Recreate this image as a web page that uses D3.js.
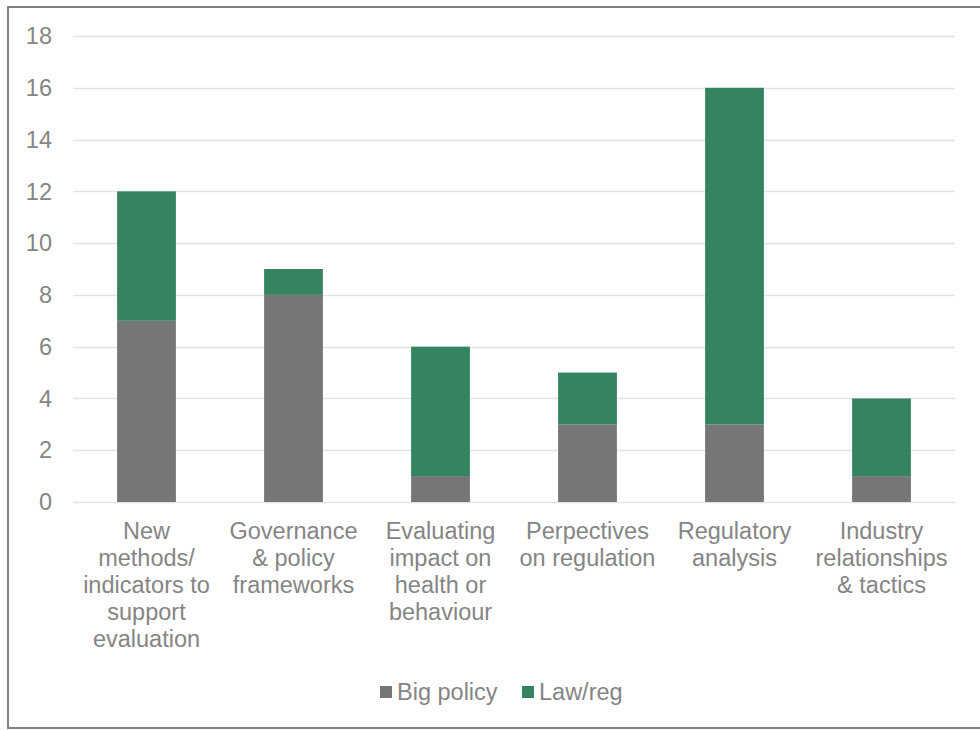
<!DOCTYPE html>
<html>
  <head>
    <meta charset="utf-8">
    <style type="text/css">
      body { margin: 0; background: #fff; }
      svg { display: block; font-family: "Liberation Sans", Arial, sans-serif; }
      .grid line { stroke: #e3e3e3; stroke-width: 1.5; }
      .tick-label { fill: #858585; font-size: 23.5px; }
    </style>
  </head>
  <body>
    <div id="chart"></div>
    <script src="https://d3js.org/d3.v7.min.js"></script>
    <script>
      const categories = [
        ["New", "methods/", "indicators to", "support", "evaluation"],
        ["Governance", "& policy", "frameworks"],
        ["Evaluating", "impact on", "health or", "behaviour"],
        ["Perpectives", "on regulation"],
        ["Regulatory", "analysis"],
        ["Industry", "relationships", "& tactics"]
      ];
      const bigPolicy = [7, 8, 1, 3, 3, 1];
      const lawReg = [5, 1, 5, 2, 13, 3];
      const seriesNames = ["Big policy", "Law/reg"];
      const colors = ["#767676", "#358461"];
      const yTicks = [0, 2, 4, 6, 8, 10, 12, 14, 16, 18];

      const width = 980, height = 730;
      const margin = {left: 73, right: 25, top: 36, bottom: 228};

      const svg = d3.select("#chart").append("svg")
        .attr("width", width)
        .attr("height", height);

      // outer frame (right edge runs off the page)
      svg.append("rect")
        .attr("x", 8).attr("y", 7)
        .attr("width", 990).attr("height", 721)
        .attr("fill", "none")
        .attr("stroke", "#808080")
        .attr("stroke-width", 2);

      const x = d3.scaleBand()
        .domain(d3.range(categories.length))
        .range([margin.left, width - margin.right])
        .paddingInner(0.6)
        .paddingOuter(0.3);

      const y = d3.scaleLinear()
        .domain([0, 18])
        .range([height - margin.bottom, margin.top]);

      const grid = svg.append("g").attr("class", "grid");
      grid.selectAll("line").data(yTicks).enter().append("line")
        .attr("x1", margin.left)
        .attr("x2", width - margin.right)
        .attr("y1", (d) => Math.round(y(d)) + 0.5)
        .attr("y2", (d) => Math.round(y(d)) + 0.5);

      svg.append("g").selectAll("text").data(yTicks).enter().append("text")
        .attr("class", "tick-label")
        .attr("x", 52)
        .attr("y", (d) => y(d))
        .attr("dy", "0.35em")
        .attr("text-anchor", "end")
        .text((d) => d);

      const rows = categories.map((c, i) => ({i: i, big: bigPolicy[i], law: lawReg[i]}));
      const stacked = d3.stack().keys(["big", "law"])(rows);

      svg.append("g").selectAll("g").data(stacked).enter().append("g")
        .attr("fill", (d, i) => colors[i])
        .selectAll("rect").data((d) => d).enter().append("rect")
        .attr("x", (d) => x(d.data.i))
        .attr("width", x.bandwidth())
        .attr("y", (d) => y(d[1]))
        .attr("height", (d) => y(d[0]) - y(d[1]));

      // category labels
      const labels = svg.append("g").selectAll("text").data(categories).enter().append("text")
        .attr("class", "tick-label")
        .attr("text-anchor", "middle")
        .attr("x", (d, i) => x(i) + x.bandwidth() / 2)
        .attr("y", 539);
      labels.selectAll("tspan").data((d) => d).enter().append("tspan")
        .attr("x", function () { return d3.select(this.parentNode).attr("x"); })
        .attr("dy", (d, i) => i === 0 ? 0 : 27)
        .text((d) => d);

      // legend
      const legendPos = [380, 522];
      const legend = svg.append("g").selectAll("g").data(seriesNames).enter().append("g")
        .attr("transform", (d, i) => `translate(${legendPos[i]},692)`);
      legend.append("rect")
        .attr("x", 0).attr("y", -6)
        .attr("width", 12).attr("height", 12)
        .attr("fill", (d, i) => colors[i]);
      legend.append("text")
        .attr("class", "tick-label")
        .attr("x", 17)
        .attr("dy", "0.35em")
        .text((d) => d);
    </script>
  </body>
</html>
